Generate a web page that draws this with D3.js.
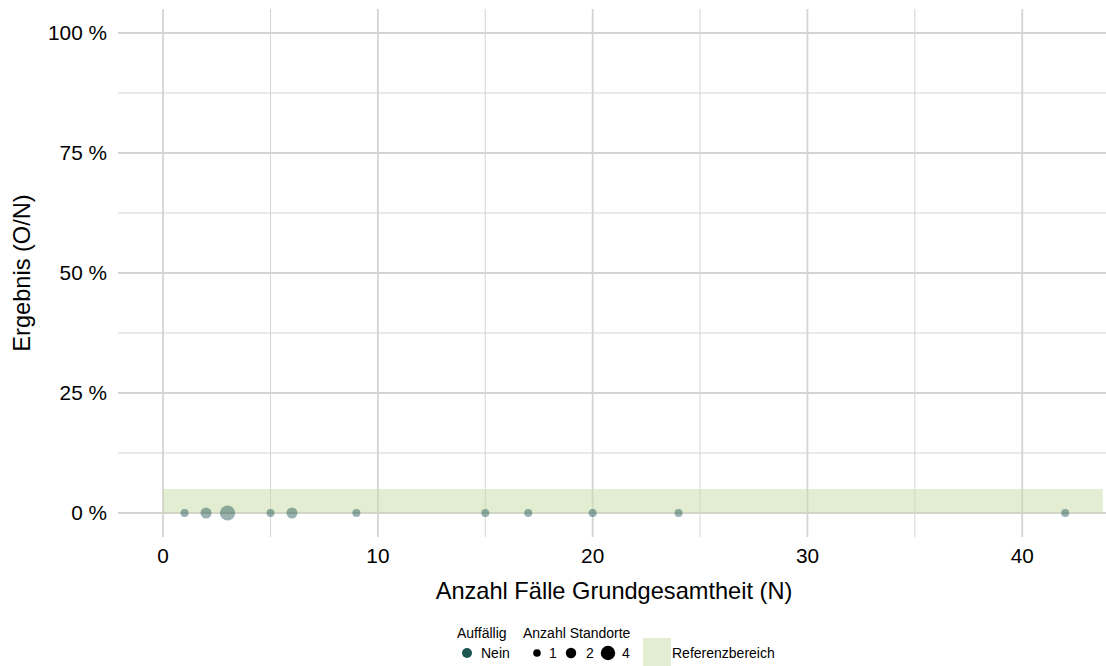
<!DOCTYPE html>
<html><head><meta charset="utf-8">
<script src="https://cdn.jsdelivr.net/npm/d3@7"></script>
<style>body{margin:0;background:#fff;font-family:"Liberation Sans",Arial,sans-serif}</style>
</head><body>
<svg id="c" width="1106" height="666"></svg>
<script>
const nValues = [1, 2, 3, 5, 6, 9, 15, 17, 20, 24, 42];
const resultValues = [0, 0, 0, 0, 0, 0, 0, 0, 0, 0, 0];
const siteCounts = [1, 2, 4, 1, 2, 1, 1, 1, 1, 1, 1];
const xTicks = [0, 10, 20, 30, 40];
const xMinor = [5, 15, 25, 35];
const yTicks = [0, 0.25, 0.5, 0.75, 1];
const yMinor = [0.125, 0.375, 0.625, 0.875];
const yTickLabels = ["0 %", "25 %", "50 %", "75 %", "100 %"];
const refRange = [0, 0.05];
const refXRange = [0, 43.75];
const sizeLegend = [1, 2, 4];

const svg = d3.select("#c");
const x = d3.scaleLinear().domain([-2.1, 43.9]).range([118, 1106]);
const y = d3.scaleLinear().domain([-0.05, 1.05]).range([537, 9]);
const r = d3.scaleSqrt().domain([1, 4]).range([4, 7.6]);
const gridCol = "#d4d4d4";

const g = svg.append("g");
g.selectAll(".xm").data(xMinor).join("line").attr("x1", d => x(d)).attr("x2", d => x(d))
  .attr("y1", 9).attr("y2", 537).attr("stroke", gridCol).attr("stroke-width", 1);
g.selectAll(".ym").data(yMinor).join("line").attr("y1", d => y(d)).attr("y2", d => y(d))
  .attr("x1", 118).attr("x2", 1106).attr("stroke", gridCol).attr("stroke-width", 1);
g.selectAll(".xM").data(xTicks).join("line").attr("x1", d => x(d)).attr("x2", d => x(d))
  .attr("y1", 9).attr("y2", 537).attr("stroke", gridCol).attr("stroke-width", 1.8);
g.selectAll(".yM").data(yTicks).join("line").attr("y1", d => y(d)).attr("y2", d => y(d))
  .attr("x1", 118).attr("x2", 1106).attr("stroke", gridCol).attr("stroke-width", 1.8);

svg.append("rect").attr("x", x(refXRange[0])).attr("width", x(refXRange[1]) - x(refXRange[0]))
  .attr("y", y(refRange[1])).attr("height", y(refRange[0]) - y(refRange[1]))
  .attr("fill", "#c5dca5").attr("opacity", 0.5);

const pts = nValues.map((n, i) => ({n, v: resultValues[i], s: siteCounts[i]}));
svg.selectAll(".pt").data(pts).join("circle")
  .attr("cx", d => x(d.n)).attr("cy", d => y(d.v)).attr("r", d => r(d.s))
  .attr("fill", "#1d5550").attr("opacity", 0.45);

svg.selectAll(".yl").data(yTicks).join("text")
  .attr("x", 107).attr("y", d => y(d)).attr("dy", "0.36em").attr("text-anchor", "end")
  .attr("font-size", 20.8).attr("fill", "#000").text((d, i) => yTickLabels[i]);
svg.selectAll(".xl").data(xTicks).join("text")
  .attr("x", d => x(d)).attr("y", 563).attr("text-anchor", "middle")
  .attr("font-size", 20.8).attr("fill", "#000").text(d => d);

svg.append("text").attr("x", 614).attr("y", 599).attr("text-anchor", "middle")
  .attr("font-size", 23.6).text("Anzahl Fälle Grundgesamtheit (N)");
svg.append("text").attr("transform", "translate(30,273) rotate(-90)").attr("text-anchor", "middle")
  .attr("font-size", 23.6).text("Ergebnis (O/N)");

const lf = 14;
svg.append("text").attr("x", 457).attr("y", 638).attr("font-size", lf).text("Auffällig");
svg.append("circle").attr("cx", 467).attr("cy", 653).attr("r", 5).attr("fill", "#1d5550");
svg.append("text").attr("x", 481).attr("y", 653).attr("dy", "0.36em").attr("font-size", lf).text("Nein");

svg.append("text").attr("x", 523).attr("y", 638).attr("font-size", lf).text("Anzahl Standorte");
const lx = [537, 571, 608], tx = [549, 586, 622];
sizeLegend.forEach((s, i) => {
  svg.append("circle").attr("cx", lx[i]).attr("cy", 653).attr("r", r(s) * 0.95).attr("fill", "#000");
  svg.append("text").attr("x", tx[i]).attr("y", 653).attr("dy", "0.36em").attr("font-size", lf).text(s);
});
svg.append("rect").attr("x", 643).attr("y", 638).attr("width", 28).attr("height", 28)
  .attr("fill", "#c5dca5").attr("opacity", 0.5);
svg.append("text").attr("x", 672).attr("y", 653).attr("dy", "0.36em").attr("font-size", lf).text("Referenzbereich");
</script>
</body></html>
